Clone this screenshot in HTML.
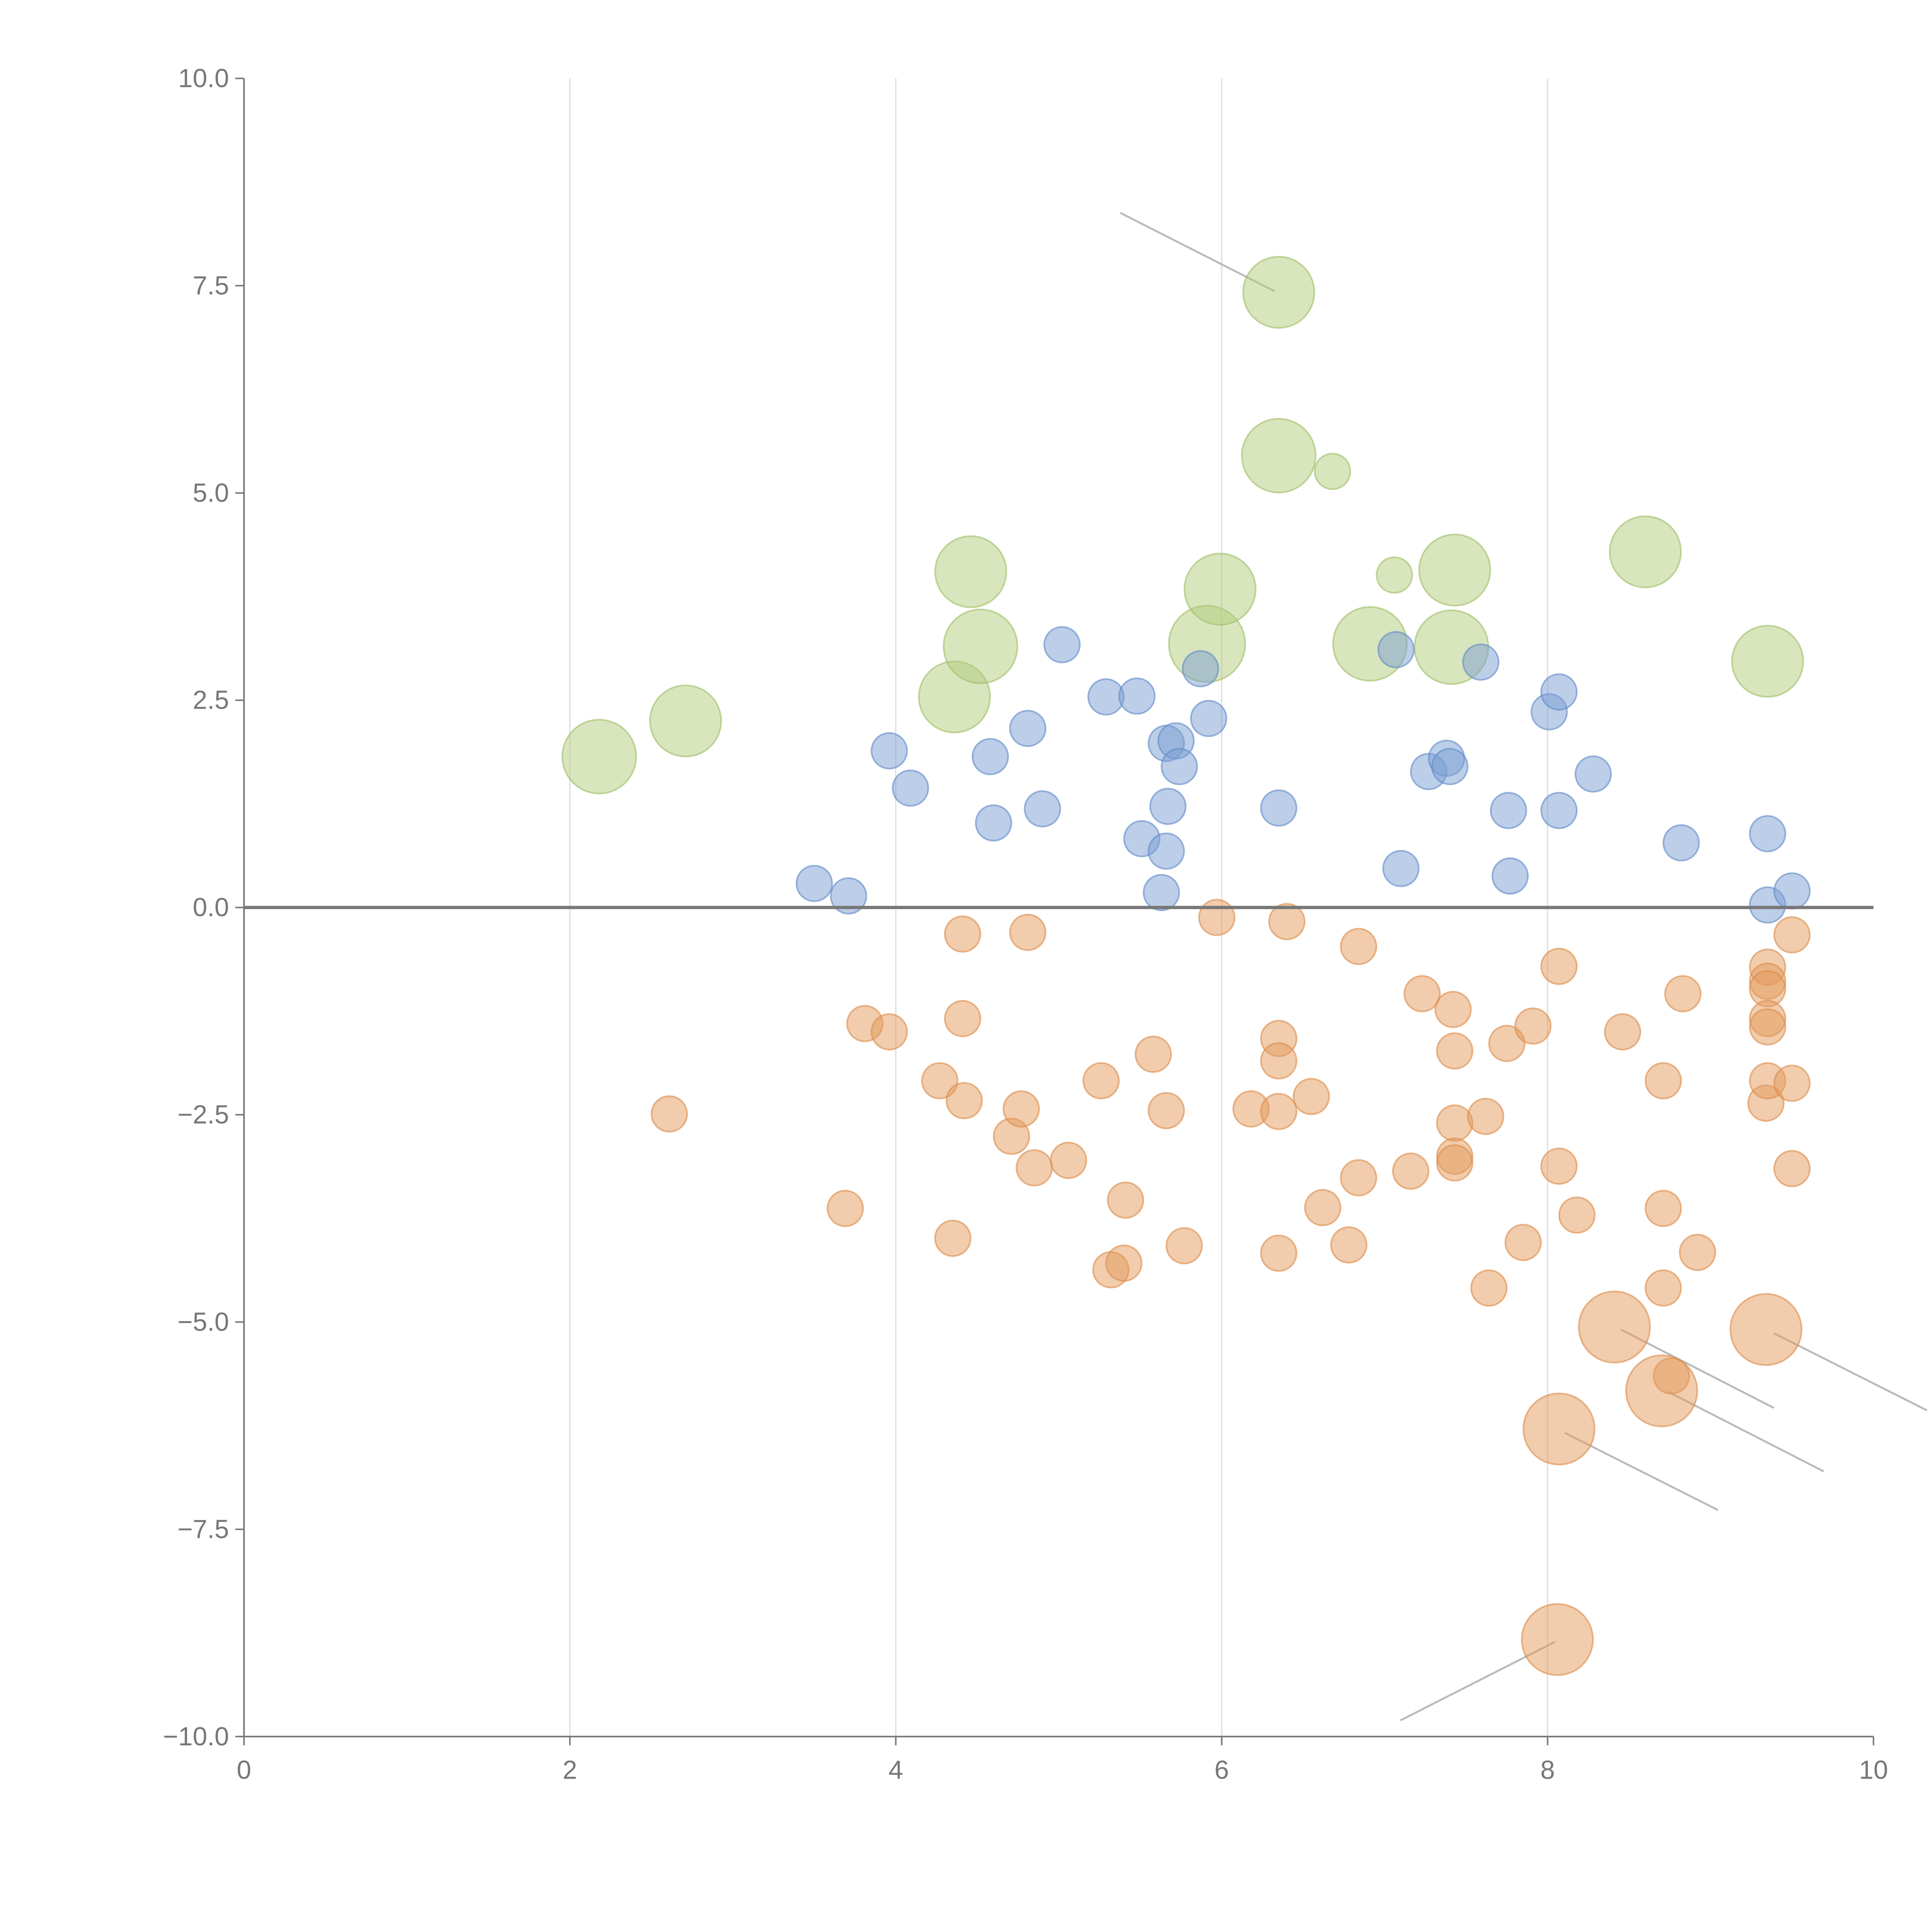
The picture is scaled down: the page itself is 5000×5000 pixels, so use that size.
<!DOCTYPE html>
<html><head><meta charset="utf-8"><style>html,body{margin:0;padding:0;background:#fff}svg{display:block}</style></head>
<body>
<svg id="chart" width="5000" height="5000" viewBox="0 0 1552 1552" xmlns="http://www.w3.org/2000/svg" font-family="Liberation Sans, sans-serif">
<g id="grid"></g>
<g id="axes"></g>
<g id="annot"></g>
<g id="marks"></g>
</svg>
<script>
const xTicks=[0,2,4,6,8,10];
const yTicks=[-10,-7.5,-5,-2.5,0,2.5,5,7.5,10];
const blueX=[3.50,3.71,3.96,4.09,4.58,4.60,4.81,4.90,5.02,5.29,5.48,5.51,5.63,5.66,5.67,5.66,5.72,5.74,5.87,5.92,6.35,7.07,7.10,7.27,7.38,7.40,7.59,7.76,7.77,8.01,8.07,8.07,8.28,8.82,9.35,9.35,9.50];
const blueY=[0.29,0.14,1.89,1.44,1.82,1.02,2.16,1.19,3.17,2.54,2.55,0.83,0.18,1.98,1.22,0.68,2.01,1.70,2.88,2.28,1.20,3.11,0.47,1.64,1.80,1.70,2.96,1.17,0.38,2.36,2.60,1.17,1.61,0.78,0.89,0.03,0.20];
const orangeX=[2.61,3.69,3.81,3.96,4.27,4.35,4.41,4.41,4.42,4.71,4.77,4.81,4.85,5.06,5.26,5.32,5.40,5.41,5.58,5.66,5.77,5.97,6.18,6.35,6.35,6.35,6.35,6.40,6.55,6.62,6.78,6.84,6.84,7.16,7.23,7.42,7.43,7.43,7.43,7.43,7.62,7.64,7.75,7.85,7.91,8.07,8.07,8.18,8.46,8.71,8.71,8.71,8.76,8.83,8.92,9.34,9.35,9.35,9.35,9.35,9.35,9.35,9.50,9.50,9.50];
const orangeY=[-2.49,-3.63,-1.40,-1.50,-2.09,-3.99,-0.32,-1.34,-2.33,-2.76,-2.43,-0.30,-3.14,-3.05,-2.09,-4.37,-4.29,-3.53,-1.77,-2.45,-4.08,-0.12,-2.43,-1.58,-1.85,-2.46,-4.17,-0.17,-2.28,-3.62,-4.07,-3.26,-0.47,-3.18,-1.04,-1.23,-1.73,-2.60,-3.00,-3.08,-2.52,-4.59,-1.64,-4.04,-1.43,-0.71,-3.12,-3.71,-1.50,-2.09,-3.63,-4.59,-5.65,-1.04,-4.16,-2.36,-0.72,-0.89,-0.98,-1.34,-1.44,-2.09,-0.33,-2.12,-3.15];
const bigOrangeX=[8.41,8.70,8.07,9.34,8.06];
const bigOrangeY=[-5.06,-5.83,-6.29,-5.09,-8.83];
const greenX=[2.18,2.71,4.36,4.46,4.52,5.91,5.99,6.35,6.35,6.68,6.91,7.06,7.41,7.43,8.60,9.35];
const greenY=[1.82,2.25,2.54,4.05,3.15,3.18,3.84,7.42,5.45,5.26,3.18,4.01,3.14,4.07,4.29,2.97];
const greenSize=[4.3,4.0,4.0,4.0,4.3,4.6,4.0,4.0,4.3,1.0,4.3,1.0,4.3,4.0,4.0,4.0];

const NS='http://www.w3.org/2000/svg';
const L=196,R=1505,T=63,B=1395;
const sx=v=>L+(v-0)/10*(R-L);
const sy=v=>B-(v+10)/20*(B-T);
const rad=s=>14.3*Math.sqrt(s);
function mk(tag,attrs,parent){const e=document.createElementNS(NS,tag);for(const k in attrs)e.setAttribute(k,attrs[k]);parent.appendChild(e);return e;}
const grid=document.getElementById('grid'),axes=document.getElementById('axes'),marks=document.getElementById('marks'),annot=document.getElementById('annot');

xTicks.forEach(t=>{
  if(t>0&&t<10){const g=mk('line',{x1:sx(t),x2:sx(t),y1:T,y2:B,stroke:'#dddddd','stroke-width':1},grid);
  
  }
  const tk=mk('line',{x1:sx(t),x2:sx(t),y1:B,y2:B+7,stroke:'#777','stroke-width':1.2},axes);
  
  
  const tx=mk('text',{x:sx(t),y:B+34,'text-anchor':'middle','font-size':21,fill:'#777'},axes);
  tx.textContent=String(t);
  
  
});
yTicks.forEach(t=>{
  const tk=mk('line',{x1:L-7,x2:L,y1:sy(t),y2:sy(t),stroke:'#777','stroke-width':1.2},axes);
  
  
  const tx=mk('text',{x:L-12,y:sy(t)+7,'text-anchor':'end','font-size':21,fill:'#777'},axes);
  tx.textContent=(t<0?'\u2212':'')+Math.abs(t).toFixed(1);
  
  
});
const yl=mk('line',{x1:L,x2:L,y1:T,y2:B,stroke:'#777','stroke-width':1.3},axes);


const xl=mk('line',{x1:L,x2:R,y1:B,y2:B,stroke:'#777','stroke-width':1.3},axes);



function series(xs,ys,ss,fill,stroke,name){
  xs.forEach((x,i)=>{
    const c=mk('circle',{cx:sx(x),cy:sy(ys[i]),r:rad(ss?ss[i]:1),fill:fill,'fill-opacity':0.5,stroke:stroke,'stroke-opacity':0.6,'stroke-width':1.3},marks);
    
    
  });
}
series(greenX,greenY,greenSize,'#b2cc7c','#9fbe64','green-bubble');
series(blueX,blueY,null,'#7a9dd2','#5f88c8','blue-bubble');
series(orangeX,orangeY,null,'#e49a5c','#dc8a48','orange-bubble');
series(bigOrangeX,bigOrangeY,bigOrangeX.map(()=>4.0),'#e49a5c','#dc8a48','large-orange-bubble');

const zl=mk('line',{x1:L,x2:R,y1:sy(0),y2:sy(0),stroke:'#777','stroke-width':2.6},marks);



const leaders=[[900,171,1024,234],[1302,1068,1425,1131],[1425,1071,1548,1133],[1340,1118,1465,1182],[1257,1151,1380,1213],[1249,1319,1125,1382]];
leaders.forEach(a=>{
  const l=mk('line',{x1:a[0],y1:a[1],x2:a[2],y2:a[3],stroke:'#bbbbbb','stroke-width':1.6},annot);
  
  
});
</script>
</body></html>
